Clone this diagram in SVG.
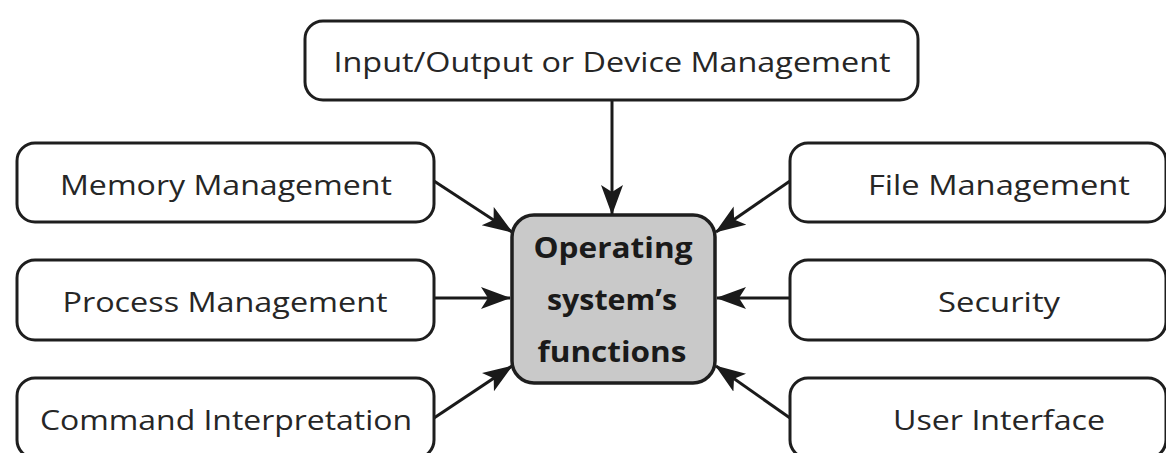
<svg xmlns="http://www.w3.org/2000/svg" width="1166" height="453" viewBox="0 0 1166 453">
<style>
.box{fill:#ffffff;stroke:#1e1e1e;stroke-width:3}
.core{fill:#c9c9c9;stroke:#1e1e1e;stroke-width:3.5}
.lbl{font-family:"Open Sans","Liberation Sans",sans-serif;font-size:28px;fill:#262626;text-anchor:middle}
.bold{font-family:"Open Sans","Liberation Sans",sans-serif;font-size:29px;font-weight:bold;fill:#1a1a1a;text-anchor:middle}
.con{stroke:#1a1a1a;stroke-width:3;fill:none;marker-end:url(#ah)}
</style>
<defs>
<marker id="ah" markerUnits="userSpaceOnUse" markerWidth="32" markerHeight="24" refX="29" refY="11" orient="auto">
<path d="M0,0 L30,11 L0,22 L7,11 z" fill="#1a1a1a"/>
</marker>
</defs>
<rect width="1166" height="453" fill="#ffffff"/>
<g id="connectors">
<line class="con" x1="612" y1="100" x2="612" y2="214"/>
<line class="con" x1="434" y1="181" x2="512" y2="232"/>
<line class="con" x1="434" y1="298" x2="510" y2="298"/>
<line class="con" x1="434" y1="418" x2="512" y2="366"/>
<line class="con" x1="790" y1="181" x2="716" y2="232"/>
<line class="con" x1="790" y1="298" x2="717" y2="298"/>
<line class="con" x1="790" y1="418" x2="716" y2="366"/>
</g>
<g id="io">
<rect class="box" x="305" y="21" width="613" height="79" rx="18"/>
<text class="lbl" x="612" y="72" textLength="557" lengthAdjust="spacingAndGlyphs">Input/Output or Device Management</text>
</g>
<g id="memory">
<rect class="box" x="17" y="143" width="417" height="79" rx="18"/>
<text class="lbl" x="226" y="195" textLength="332" lengthAdjust="spacingAndGlyphs">Memory Management</text>
</g>
<g id="process">
<rect class="box" x="17" y="260" width="417" height="80" rx="18"/>
<text class="lbl" x="225" y="312" textLength="325" lengthAdjust="spacingAndGlyphs">Process Management</text>
</g>
<g id="command">
<rect class="box" x="17" y="378" width="417" height="80" rx="18"/>
<text class="lbl" x="226" y="430" textLength="372" lengthAdjust="spacingAndGlyphs">Command Interpretation</text>
</g>
<g id="file">
<rect class="box" x="790" y="143" width="376" height="79" rx="18"/>
<text class="lbl" x="999" y="195" textLength="262" lengthAdjust="spacingAndGlyphs">File Management</text>
</g>
<g id="security">
<rect class="box" x="790" y="260" width="376" height="80" rx="18"/>
<text class="lbl" x="999" y="312" textLength="122" lengthAdjust="spacingAndGlyphs">Security</text>
</g>
<g id="ui">
<rect class="box" x="790" y="378" width="376" height="80" rx="18"/>
<text class="lbl" x="999" y="430" textLength="212" lengthAdjust="spacingAndGlyphs">User Interface</text>
</g>
<g id="os">
<rect class="core" x="512" y="215" width="203" height="168" rx="22"/>
<text class="bold" x="613" y="258" textLength="159" lengthAdjust="spacingAndGlyphs">Operating</text>
<text class="bold" x="612" y="310" textLength="130" lengthAdjust="spacingAndGlyphs">system’s</text>
<text class="bold" x="612" y="362" textLength="149" lengthAdjust="spacingAndGlyphs">functions</text>
</g>
</svg>
